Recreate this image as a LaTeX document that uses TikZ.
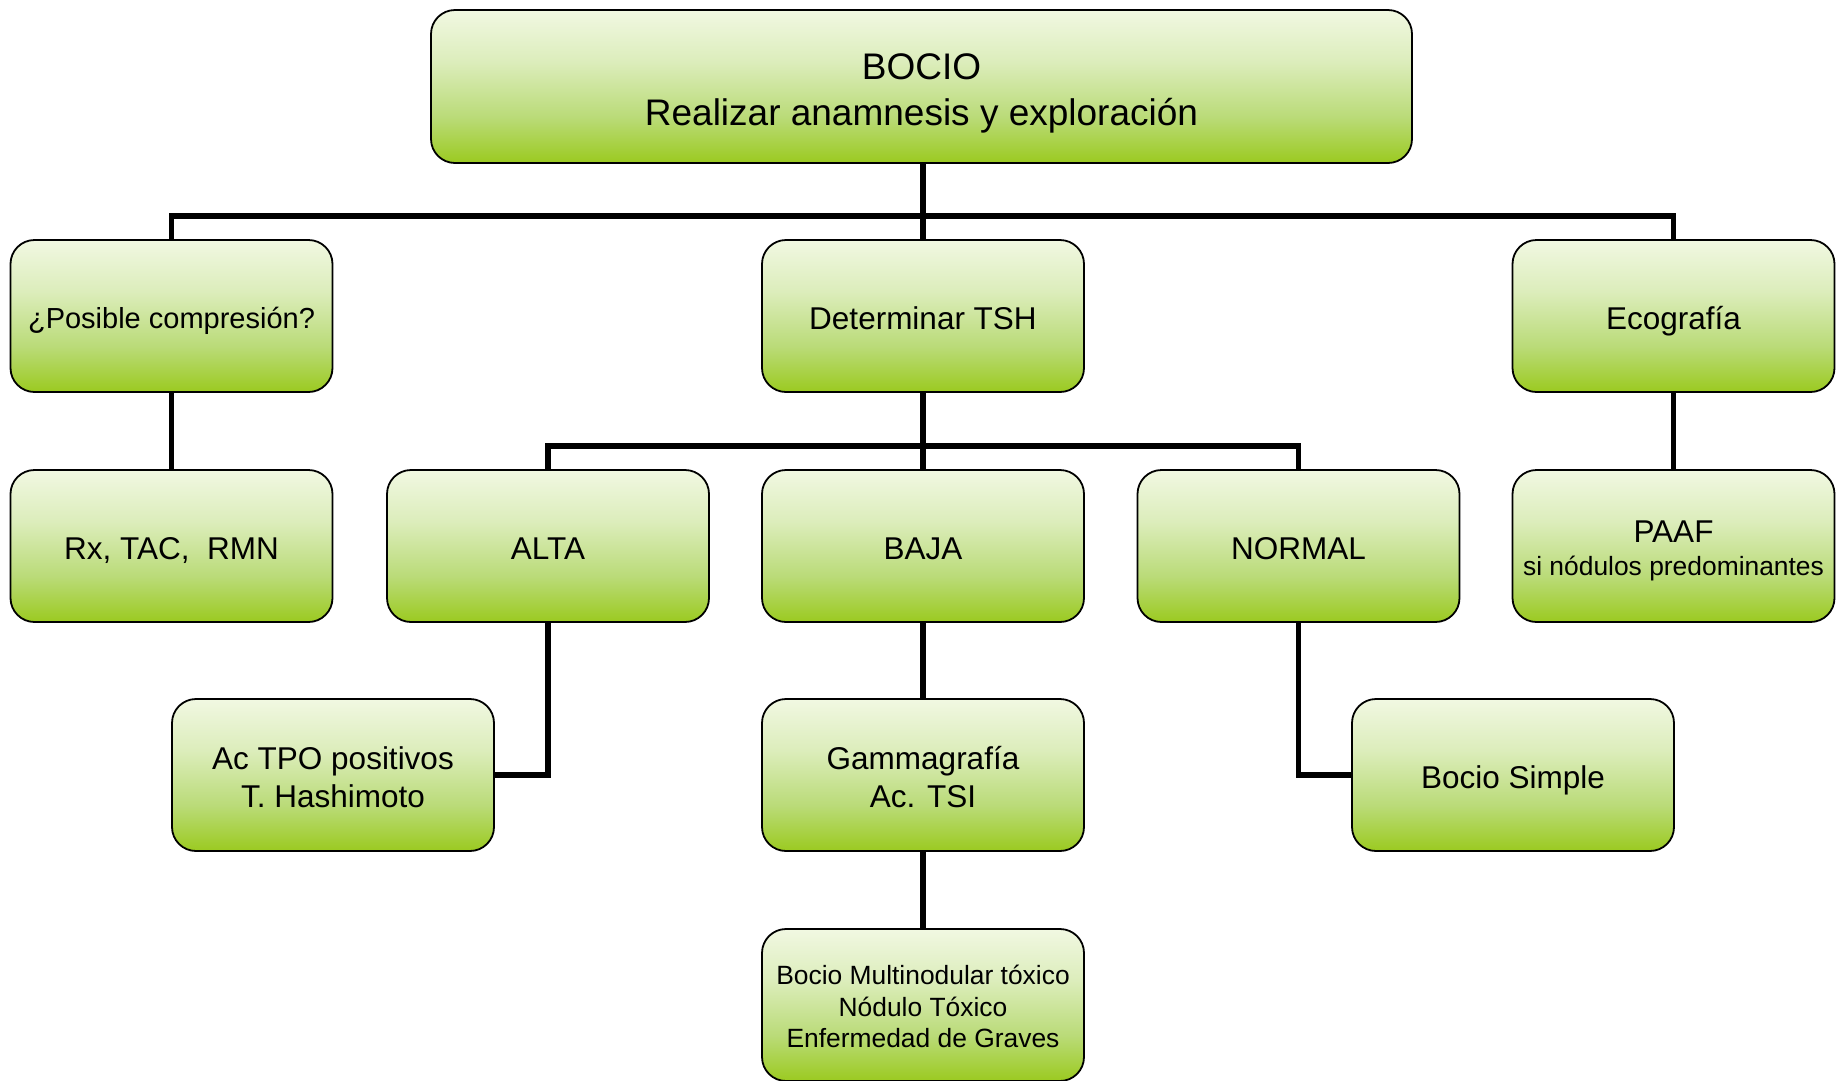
\documentclass[tikz,border=0pt]{standalone}
\usepackage{fontspec}
\setmainfont{Liberation Sans}

% Box fill: pale at the top, fresh green at the bottom
\definecolor{gB}{HTML}{9BCA20}
\definecolor{gM1}{HTML}{BADB78}
\definecolor{gM2}{HTML}{DCEDBB}
\definecolor{gT}{HTML}{F1F8E2}
\pgfdeclareverticalshading{leafgreen}{100bp}{%
  color(0bp)=(gB); color(25bp)=(gB); color(40bp)=(gM1);
  color(58bp)=(gM2); color(75bp)=(gT); color(100bp)=(gT)}

% invisible rule that fixes the height of the first and the depth of the last line
\newcommand\linestrut{\rule[-0.25em]{0pt}{1.35em}}

\tikzset{
  stepbox/.style={draw=black, line width=1.8pt, rounded corners=24pt,
    shading=leafgreen, minimum width=322pt, minimum height=152pt,
    inner sep=0pt, align=center, text=black,
    font=\fontsize{31.5pt}{38.7pt}\selectfont,
    execute at begin node=\linestrut, execute at end node=\linestrut},
  headbox/.style={stepbox, minimum width=981pt, minimum height=153pt,
    font=\fontsize{37pt}{45.7pt}\selectfont},
  link/.style={draw=black, line width=5.5pt}
}

\begin{document}
\begin{tikzpicture}[x=1pt,y=-1pt]
\clip (0,0) rectangle (1839,1080);

% header
\node[headbox] (head) at (921.5,86.5) {\linestrut BOCIO\\Realizar anamnesis y exploración};

% first level
\node[stepbox, font=\fontsize{29pt}{36pt}\selectfont] (comp) at (171.5,316) {¿Posible compresión?};
\node[stepbox] (tsh) at (923,316) {Determinar TSH};
\node[stepbox] (eco) at (1673.5,316) {Ecografía};

% second level
\node[stepbox] (rx) at (171.5,546) {Rx, TAC, \ RMN};
\node[stepbox] (alta) at (548,546) {ALTA};
\node[stepbox] (baja) at (923,546) {BAJA};
\node[stepbox] (normal) at (1298.5,546) {NORMAL};
\node[stepbox] (paaf) at (1673.5,546)
  {\linestrut PAAF\\[-5.5pt]{\fontsize{26.4pt}{31.7pt}\selectfont si nódulos predominantes}};

% third level
\node[stepbox] (tpo) at (333,775) {\linestrut Ac TPO positivos\\T. Hashimoto};
\node[stepbox] (gamma) at (923,775) {\linestrut Gammagrafía\\Ac. TSI};
\node[stepbox] (simple) at (1513,775) {Bocio Simple};

% fourth level
\node[stepbox, font=\fontsize{26.4pt}{31.7pt}\selectfont] (graves) at (923,1005)
  {\linestrut Bocio Multinodular tóxico\\Nódulo Tóxico\\Enfermedad de Graves};

% connectors
\coordinate (busA) at (923,216);
\coordinate (busB) at (923,446);
\draw[link] (head.south -| tsh.north) -- (tsh.north);
\draw[link] (comp.north) |- (busA) -| (eco.north);
\draw[link] (comp.south) -- (rx.north);
\draw[link] (eco.south) -- (paaf.north);
\draw[link] (tsh.south) -- (baja.north);
\draw[link] (alta.north) |- (busB) -| (normal.north);
\draw[link] (alta.south) |- (tpo.east);
\draw[link] (baja.south) -- (gamma.north);
\draw[link] (normal.south) |- (simple.west);
\draw[link] (gamma.south) -- (graves.north);
\end{tikzpicture}
\end{document}
